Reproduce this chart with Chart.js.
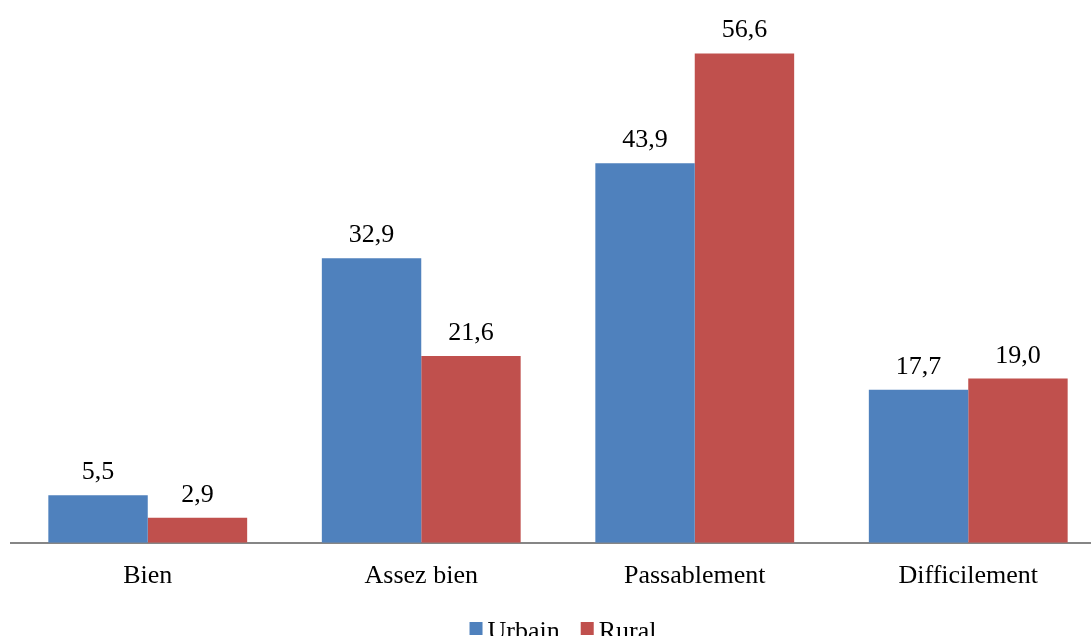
<!DOCTYPE html>
<html>
<head>
<meta charset="utf-8">
<script src="https://cdn.jsdelivr.net/npm/chart.js@4.4.0/dist/chart.umd.min.js"></script>
<style>
    html, body { margin: 0; padding: 0; background: #fff; overflow: hidden; }
    #wrap { width: 1105px; height: 636px; }
</style>
</head>
<body>
<div id="wrap"><canvas id="chart"></canvas></div>
<script>
const categories = ["Bien", "Assez bien", "Passablement", "Difficilement"];
const urbain = [5.5, 32.9, 43.9, 17.7];
const rural = [2.9, 21.6, 56.6, 19.0];

const serif = "'Liberation Serif', 'Times New Roman', serif";
const fontSize = 26;

// values above the bars, french decimal comma
const valueLabels = {
    id: "valueLabels",
    afterDatasetsDraw(chart) {
        const ctx = chart.ctx;
        ctx.save();
        ctx.font = fontSize + "px " + serif;
        ctx.fillStyle = "#000";
        ctx.textAlign = "center";
        ctx.textBaseline = "alphabetic";
        chart.data.datasets.forEach((ds, i) => {
            chart.getDatasetMeta(i).data.forEach((bar, j) => {
                const txt = ds.data[j].toFixed(1).replace(".", ",");
                ctx.fillText(txt, bar.x, bar.y - 16);
            });
        });
        ctx.restore();
    },
};

// legend drawn by hand so box/text spacing matches the original
const bottomLegend = {
    id: "bottomLegend",
    afterDraw(chart) {
        const ctx = chart.ctx;
        const box = 13, gap = 5, spacing = 21;
        const centerX = 563, boxTop = 622;
        ctx.save();
        ctx.font = fontSize + "px " + serif;
        ctx.textBaseline = "alphabetic";
        const items = chart.data.datasets.map((ds) => ({
            text: ds.label,
            color: ds.backgroundColor,
            w: ctx.measureText(ds.label).width,
        }));
        let total = 0;
        items.forEach((it, i) => {
            total += box + gap + it.w + (i ? spacing : 0);
        });
        let x = centerX - total / 2;
        items.forEach((it) => {
            ctx.fillStyle = it.color;
            ctx.fillRect(x, boxTop, box, box);
            ctx.fillStyle = "#000";
            ctx.fillText(it.text, x + box + gap, boxTop + 17);
            x += box + gap + it.w + spacing;
        });
        ctx.restore();
    },
};

new Chart(document.getElementById("chart"), {
    type: "bar",
    data: {
        labels: categories,
        datasets: [
            {
                label: "Urbain",
                data: urbain,
                backgroundColor: "#4F81BD",
                borderWidth: 0,
            },
            {
                label: "Rural",
                data: rural,
                backgroundColor: "#C0504D",
                borderWidth: 0,
            },
        ],
    },
    options: {
        responsive: true,
        maintainAspectRatio: false,
        animation: false,
        layout: {
            padding: { top: 24, left: 11, right: 0, bottom: 34 },
        },
        datasets: {
            bar: {
                barPercentage: 1,
                categoryPercentage: 0.727,
            },
        },
        plugins: {
            legend: { display: false },
            tooltip: { enabled: false },
        },
        scales: {
            x: {
                grid: { display: false },
                border: { color: "#868686", width: 2 },
                ticks: {
                    font: { family: serif, size: fontSize },
                    color: "#000",
                    padding: 10,
                },
            },
            y: {
                display: false,
                min: 0,
                max: 60,
            },
        },
    },
    plugins: [valueLabels, bottomLegend],
});
</script>
</body>
</html>
